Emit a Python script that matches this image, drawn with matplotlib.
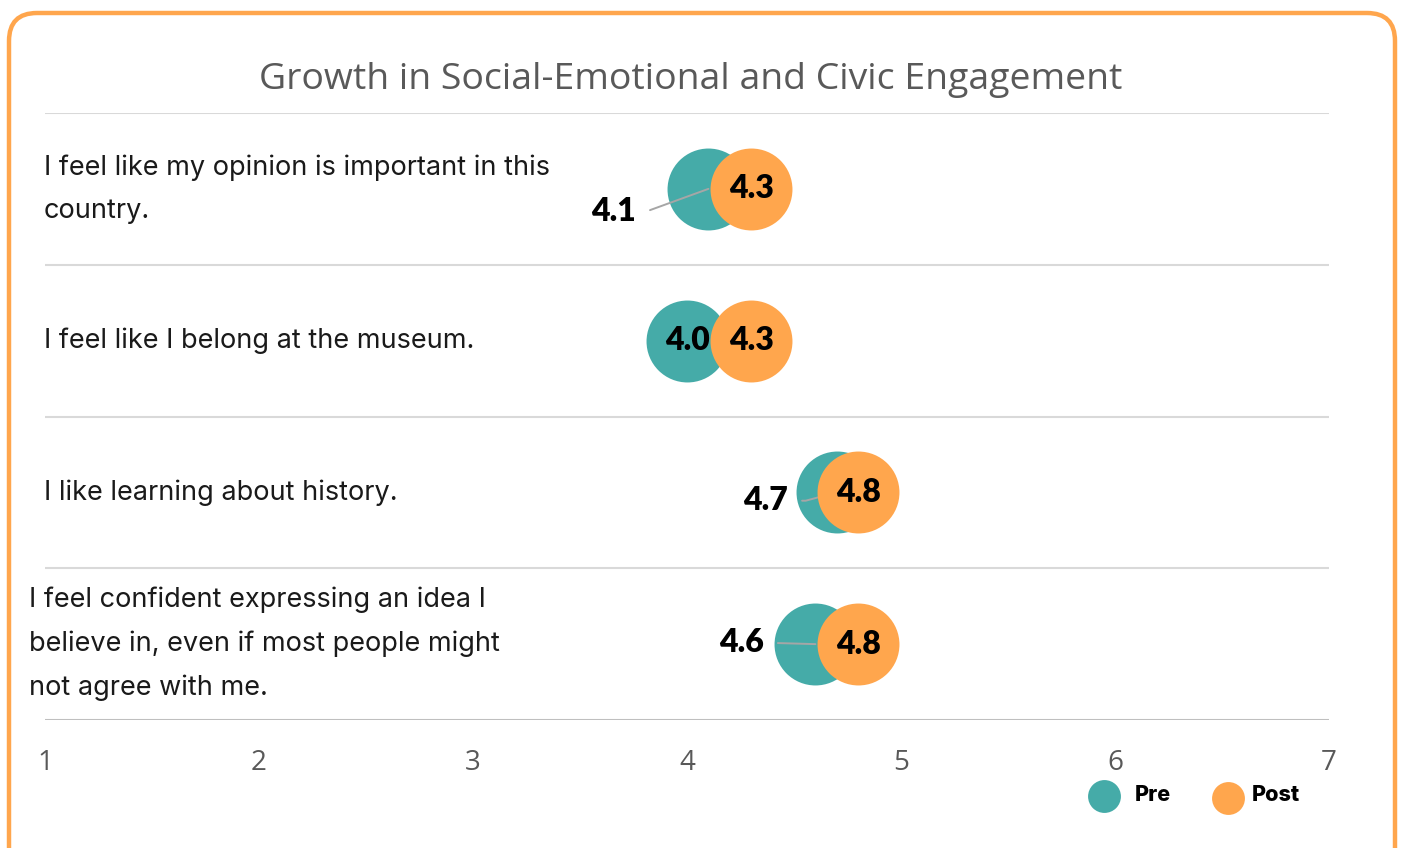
import matplotlib.pyplot as plt
from matplotlib.patches import FancyBboxPatch

# data
questions = [
    "I feel like my opinion is important in this\ncountry.",
    "I feel like I belong at the museum.",
    "I like learning about history.",
    "I feel confident expressing an idea I\nbelieve in, even if most people might\nnot agree with me.",
]
pre = [4.1, 4.0, 4.7, 4.6]
post = [4.3, 4.3, 4.8, 4.8]
xticks = [1, 2, 3, 4, 5, 6, 7]

teal = "#45ABA8"
orange = "#FFA64D"
gray = "#595959"

W, H = 1404, 848
fig = plt.figure(figsize=(W / 100, H / 100), dpi=100)

# background axes in pixel units: frame + legend
bg = fig.add_axes([0, 0, 1, 1])
bg.set_xlim(0, W)
bg.set_ylim(H, 0)
bg.axis("off")
frame = FancyBboxPatch((9, 13), 1386, H + 40, boxstyle="round,pad=0,rounding_size=28",
                       facecolor="white", edgecolor=orange, linewidth=3.2)
bg.add_patch(frame)
bg.scatter([1104], [796], s=560, color=teal, linewidths=0)
bg.scatter([1228], [798], s=560, color=orange, linewidths=0)
bg.text(1135, 795, "Pre", ha="left", va="center", fontsize=15.5, fontweight="heavy", family="Inter")
bg.text(1252, 795, "Post", ha="left", va="center", fontsize=15.5, fontweight="heavy", family="Inter")

ax = fig.add_axes([45 / W, 1 - 720 / H, 1284 / W, 607 / H])
ax.set_facecolor("none")
ax.set_xlim(1, 7)
ax.set_ylim(len(questions) - 0.5, -0.5)
for s in ax.spines.values():
    s.set_visible(False)

# row separators
for k in range(len(questions)):
    ax.axhline(k - 0.5, color="#D9D9D9", lw=1.5, zorder=1)
ax.axhline(len(questions) - 0.5, color="#BFBFBF", lw=1.5, zorder=1)

ax.set_xticks(xticks)
ax.set_xticklabels([str(t) for t in xticks], fontsize=20, color=gray, family="Open Sans")
ax.set_yticks([])
ax.tick_params(axis="x", length=0, pad=21)

rows = list(range(len(questions)))
ax.scatter(pre, rows, s=3480, color=teal, zorder=3, linewidths=0)
ax.scatter(post, rows, s=3480, color=orange, zorder=5, linewidths=0)

vfont = dict(family="Lato", fontweight="heavy", fontsize=23, color="black")
for r in rows:
    ax.text(post[r], r, f"{post[r]:.1f}", ha="center", va="center", zorder=6, **vfont)

# pre labels: inside when space, otherwise pulled out with leader line
pre_off = [(-52, -16), None, (-35, -6), (-37, 1.5)]
pre_conn = ["angle,angleA=0,angleB=20,rad=0", None,
            "angle,angleA=0,angleB=15,rad=0", "arc3,rad=0"]
for r in rows:
    if pre_off[r] is None:
        ax.text(pre[r], r, f"{pre[r]:.1f}", ha="center", va="center", zorder=4, **vfont)
    else:
        ax.annotate(f"{pre[r]:.1f}", xy=(pre[r], r), xytext=pre_off[r],
                    textcoords="offset points", ha="right", va="center", zorder=4,
                    arrowprops=dict(arrowstyle="-", color="#A6A6A6", lw=1.4,
                                    shrinkA=8, shrinkB=0, connectionstyle=pre_conn[r]),
                    **vfont)

# question labels
lab_x = [44, 44, 44, 27]
for r in rows:
    xf = lab_x[r] / W
    ax.text(xf - 45 / W, r, questions[r], transform=ax.get_yaxis_transform(),
            ha="left", va="center", fontsize=19.5, family="Inter",
            color="#1a1a1a", linespacing=1.85, zorder=4)

fig.text(691 / W, 1 - 80 / H, "Growth in Social-Emotional and Civic Engagement",
         ha="center", va="center", fontsize=26.9, color=gray, family="Open Sans")

fig.savefig("out.png", dpi=100)
